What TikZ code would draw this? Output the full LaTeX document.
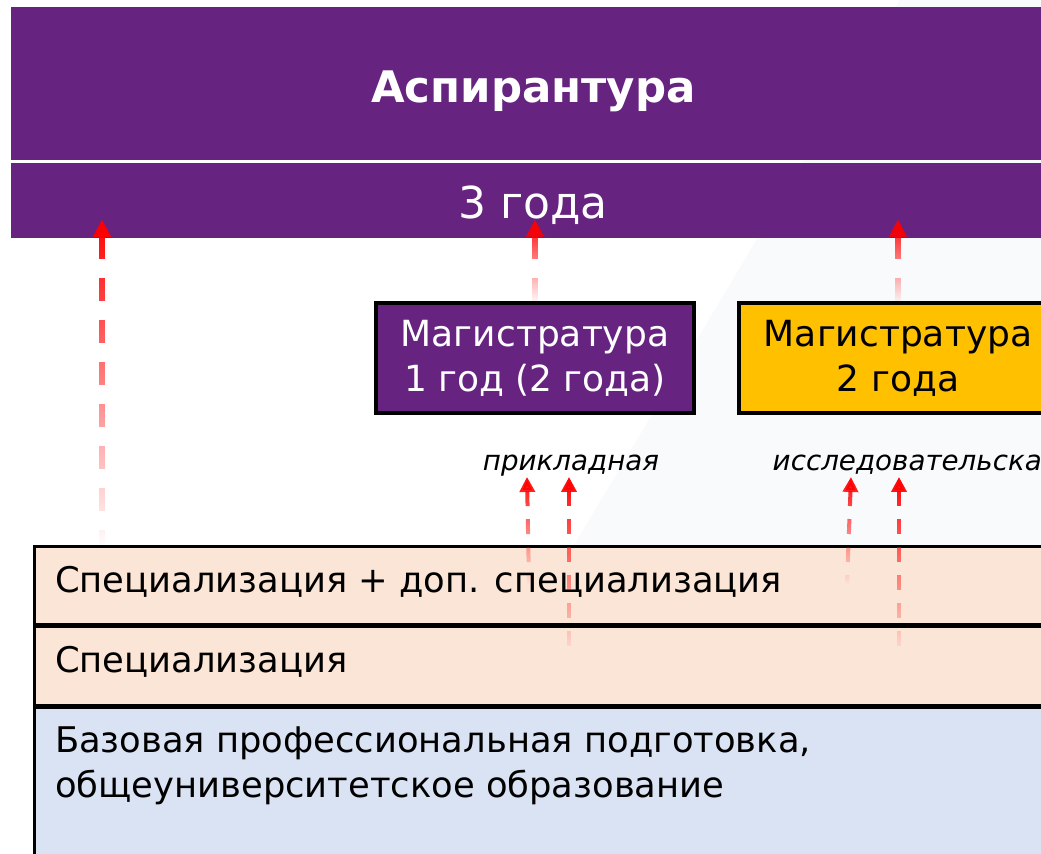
\documentclass[tikz,border=0pt]{standalone}
\usepackage{fontspec}
\setmainfont{DejaVu Sans}
\usetikzlibrary{arrows.meta,calc,fadings}

\definecolor{purp}{RGB}{102,35,128}
\definecolor{gold}{RGB}{255,192,0}
\definecolor{peach}{RGB}{251,229,214}
\definecolor{paleblue}{RGB}{218,227,243}
\definecolor{bgtint}{RGB}{249,250,252}

\tikzfading[name=fadeup, top color=transparent!0, middle color=transparent!30, bottom color=transparent!100]

\tikzset{
  band/.style={fill=purp, anchor=north west, inner sep=0pt, minimum width=780pt},
  magbox/.style={draw=black, line width=2.6pt, minimum width=238.5pt, minimum height=82.5pt,
    inner sep=0pt, align=center, font=\fontsize{27}{33.75}\selectfont},
  rowbox/.style={draw=black, line width=2pt, anchor=north west, inner sep=0pt, minimum width=765pt},
  rowtext/.style={anchor=base west, font=\fontsize{26.5}{33}\selectfont},
  kind/.style={anchor=base, font=\itshape\fontsize{20.8}{25}\selectfont},
  bigarrow/.style={red, line width=4.5pt, dash pattern=on 17.25pt off 14.25pt,
    path fading=fadeup, fading transform={xscale=4}, {Triangle[length=13pt,width=13pt]}-},
  smallarrow/.style={red, line width=3pt, dash pattern=on 11.25pt off 9.75pt,
    path fading=fadeup, fading transform={xscale=4}, {Triangle[length=11.25pt,width=11.25pt]}-}
}

\begin{document}
\begin{tikzpicture}[x=0.75pt, y=-0.75pt]
    \useasboundingbox (0,0) rectangle (1041,853);
    \fill[white] (0,0) rectangle (1041,853);
    \fill[bgtint] (900,0) -- (1041,0) -- (1041,853) -- (390,853) -- cycle;

    % Aspirantura bands
    \node[band, minimum height=114.75pt] (title) at (11,7) {};
    \node[anchor=base, text=white, font=\bfseries\fontsize{32.6}{38}\selectfont]
        at ([xshift=1.5pt, yshift=-71.25pt]title.north) {Аспирантура};
    \node[band, minimum height=56.25pt] (yrs) at (11,163) {};
    \node[anchor=base, text=white, font=\fontsize{33}{40}\selectfont]
        at ([xshift=1.5pt, yshift=-41.25pt]yrs.north) {3 года};

    % Magistratura boxes
    \node[magbox, fill=purp, text=white] (mag1) at (535,358) {Магистратура\\1 год (2 года)};
    \node[magbox, fill=gold] (mag2) at (898,358) {Магистратура\\2 года};

    \node[kind] (appl) at (571,470) {прикладная};
    \node[kind, anchor=base west] (res) at (768,470) {исследовательская};

    % Bachelor rows
    \node[rowbox, fill=peach, minimum height=58.5pt] (row1) at (33,545) {};
    \node[rowtext] at ([xshift=13pt, yshift=-35.25pt]row1.north west) {Специализация + доп. специализация};
    \node[rowbox, fill=peach, minimum height=58.5pt] (row2) at (row1.south west) {};
    \node[rowtext] at ([xshift=13pt, yshift=-35.25pt]row2.north west) {Специализация};
    \node[rowbox, fill=paleblue, minimum height=120pt] (row3) at (row2.south west) {};
    \node[rowtext] at ([xshift=13pt, yshift=-34.5pt]row3.north west) {Базовая профессиональная подготовка,};
    \node[rowtext] at ([xshift=13pt, yshift=-68.25pt]row3.north west) {общеуниверситетское образование};

    % arrows into Aspirantura
    \coordinate (base0) at ($(row1.north west)+(69,0)$);
    \draw[bigarrow] ($(yrs.south -| base0)+(0,-19)$) -- (base0);
    \draw[bigarrow] ($(yrs.south -| mag1.north)+(0,-19)$) -- (mag1.north);
    \draw[bigarrow] ($(yrs.south -| mag2.north)+(0,-19)$) -- (mag2.north);

    % arrows into Magistratura kinds
    \coordinate (p1) at (529,583);
    \coordinate (p2) at (569,655);
    \coordinate (r1) at (847,583);
    \coordinate (r2) at (899,655);
    \draw[smallarrow] ($(appl.base)+(-44,7)$) -- (p1);
    \draw[smallarrow] ($(appl.base -| p2)+(0,7)$) -- (p2);
    \draw[smallarrow] ($(res.base west)+(83,7)$) -- (r1);
    \draw[smallarrow] ($(res.base west -| r2)+(0,7)$) -- (r2);
\end{tikzpicture}
\end{document}
